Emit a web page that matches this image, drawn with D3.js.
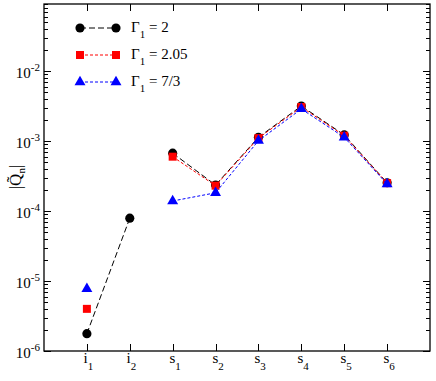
<!DOCTYPE html>
<html>
<head>
<meta charset="utf-8">
<script src="https://cdn.jsdelivr.net/npm/d3@7"></script>
<style>
  body { margin: 0; background: #fff; }
</style>
</head>
<body>
<svg id="chart" width="436" height="381"></svg>
<script>
// categories along x (position 1..8)
const categories = ["i1", "i2", "s1", "s2", "s3", "s4", "s5", "s6"];
const catBase = ["i", "i", "s", "s", "s", "s", "s", "s"];
const catSub  = ["1", "2", "1", "2", "3", "4", "5", "6"];

// |Q_n| values, null where there is no point; i-part and s-part drawn as separate line pieces
const gamma2    = [1.77e-6, 7.9e-5, 6.7e-4, 2.35e-4, 1.13e-3, 3.16e-3, 1.22e-3, 2.53e-4];
const gamma205  = [4.0e-6,  null,   5.97e-4, 2.3e-4, 1.1e-3,  3.06e-3, 1.19e-3, 2.5e-4];
const gamma73   = [7.7e-6,  null,   1.39e-4, 1.82e-4, 1.01e-3, 2.87e-3, 1.13e-3, 2.43e-4];

const legendLabels = ["2", "2.05", "7/3"];
const yMajor = [-6, -5, -4, -3, -2];

const FONT = "'Liberation Serif', 'Times New Roman', serif";
const svg = d3.select("#chart").attr("font-family", FONT);
const mLeft = 44, mRight = 430, mTop = 4, mBottom = 351;

const x = d3.scaleLinear().domain([0, 9]).range([mLeft, mRight]);
const y = d3.scaleLog().domain([1e-6, 0.0906]).range([mBottom, mTop]);

const series = [
  {vals: gamma2,   color: "#000", dash: "6,3", shape: "circle"},
  {vals: gamma205, color: "#f00", dash: "3,2", shape: "square"},
  {vals: gamma73,  color: "#00f", dash: "3,2", shape: "triangle"}
];

// frame
svg.append("rect").attr("x", mLeft).attr("y", mTop)
  .attr("width", mRight - mLeft).attr("height", mBottom - mTop)
  .attr("fill", "none").attr("stroke", "#000").attr("stroke-width", 1.3);

// y ticks, both sides, inward
const yt = svg.append("g").attr("stroke", "#000").attr("stroke-width", 1);
for (let e = -6; e <= -2; e++) {
  for (let m = 1; m <= 9; m++) {
    const v = m * Math.pow(10, e);
    if (v > y.domain()[1]) continue;
    const len = m === 1 ? 7 : 4;
    const py = Math.round(y(v)) + 0.5;
    yt.append("line").attr("x1", mLeft).attr("x2", mLeft + len).attr("y1", py).attr("y2", py);
    yt.append("line").attr("x1", mRight).attr("x2", mRight - len).attr("y1", py).attr("y2", py);
  }
}
yMajor.forEach(e => {
  const t = svg.append("text").attr("x", mLeft - 4).attr("y", y(Math.pow(10, e)) + 7)
    .attr("text-anchor", "end").attr("font-size", 15);
  t.append("tspan").text("10");
  t.append("tspan").attr("dy", -7).attr("font-size", 11).text("-" + (-e));
});

// x ticks top and bottom
categories.forEach((c, i) => {
  const px = Math.round(x(i + 1)) + 0.5;
  yt.append("line").attr("x1", px).attr("x2", px).attr("y1", mBottom).attr("y2", mBottom - 7);
  yt.append("line").attr("x1", px).attr("x2", px).attr("y1", mTop).attr("y2", mTop + 7);
  const t = svg.append("text").attr("x", px - 4).attr("y", 363).attr("font-size", 15);
  t.append("tspan").text(catBase[i]);
  t.append("tspan").attr("dy", 7).attr("font-size", 11).text(catSub[i]);
});

// y label
const yl = svg.append("text").attr("transform", "translate(21,177) rotate(-90)")
  .attr("text-anchor", "middle").attr("font-size", 17);
yl.append("tspan").text("|Q\u0303");
yl.append("tspan").attr("dy", 4).attr("font-size", 11).text("n");
yl.append("tspan").attr("dy", -4).text("|");

// lines + markers
const line = d3.line().x(d => x(d.i + 1)).y(d => y(d.v));
function symbolPath(shape) {
  if (shape === "circle") return d3.symbol(d3.symbolCircle, 66)();
  if (shape === "square") return d3.symbol(d3.symbolSquare, 64)();
  return d3.symbol(d3.symbolTriangle, 52)();
}
series.forEach(s => {
  const pts = s.vals.map((v, i) => ({i, v}));
  const iPart = pts.slice(0, 2).filter(d => d.v !== null);
  const sPart = pts.slice(2).filter(d => d.v !== null);
  [iPart, sPart].forEach(part => {
    if (part.length > 1)
      svg.append("path").attr("d", line(part)).attr("fill", "none")
        .attr("stroke", s.color).attr("stroke-width", 1).attr("stroke-dasharray", s.dash);
  });
  svg.selectAll(null).data(pts.filter(d => d.v !== null)).enter().append("path")
    .attr("d", symbolPath(s.shape))
    .attr("transform", d => `translate(${x(d.i + 1)},${y(d.v)})`)
    .attr("fill", s.color);
});

// legend
series.forEach((s, k) => {
  const ly = 28 + k * 27;
  svg.append("line").attr("x1", 80).attr("x2", 116).attr("y1", ly).attr("y2", ly)
    .attr("stroke", s.color).attr("stroke-dasharray", s.dash);
  [80, 116].forEach(px => svg.append("path").attr("d", symbolPath(s.shape))
    .attr("transform", `translate(${px},${ly})`).attr("fill", s.color));
  const t = svg.append("text").attr("x", 131).attr("y", ly + 4).attr("font-size", 15);
  t.append("tspan").text("\u0393");
  t.append("tspan").attr("dy", 6).attr("font-size", 11).text("1");
  t.append("tspan").attr("dy", -6).text(" = " + legendLabels[k]);
});
</script>
</body>
</html>
